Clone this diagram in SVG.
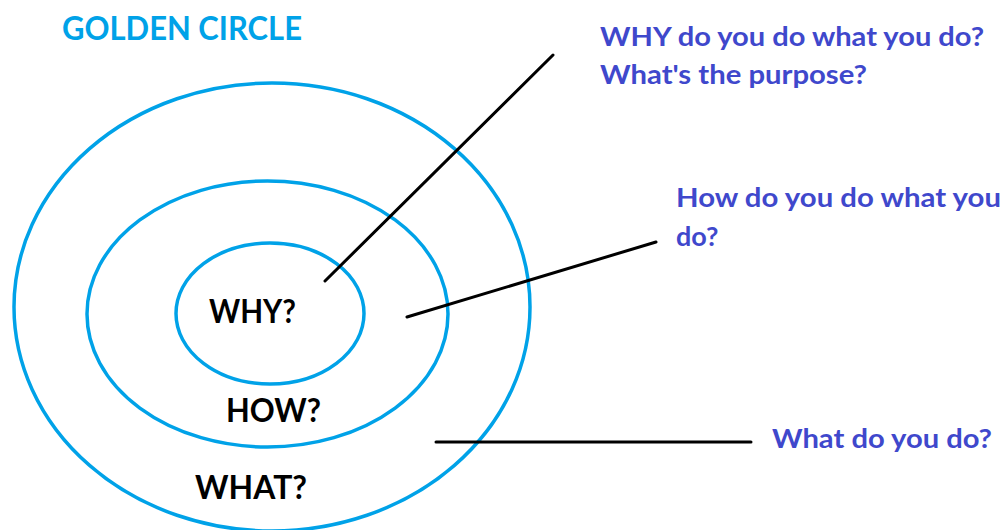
<svg xmlns="http://www.w3.org/2000/svg" width="1006" height="530" viewBox="0 0 1006 530">
  <style>
    .ring { fill: none; stroke: #00a2e8; stroke-width: 3.5; }
    .conn { stroke: #000000; stroke-width: 3; stroke-linecap: round; fill: none; }
    .title { font-family: Lato, "Open Sans", "Liberation Sans", sans-serif; font-weight: bold; font-size: 32px; fill: #00a2e8; }
    .label { font-family: Lato, "Open Sans", "Liberation Sans", sans-serif; font-weight: bold; font-size: 33px; fill: #000000; }
    .note { font-family: Lato, "Open Sans", "Liberation Sans", sans-serif; font-weight: bold; font-size: 27px; fill: #3f48cc; }
  </style>
  <rect width="1006" height="530" fill="#ffffff"/>
  <text class="title" x="62" y="40" textLength="240" lengthAdjust="spacingAndGlyphs">GOLDEN CIRCLE</text>
  <g id="what-ring">
    <ellipse class="ring" cx="272" cy="307" rx="258" ry="224"/>
    <text class="label" x="195" y="499" textLength="112" lengthAdjust="spacingAndGlyphs">WHAT?</text>
  </g>
  <g id="how-ring">
    <ellipse class="ring" cx="267.5" cy="314" rx="180.5" ry="133"/>
    <text class="label" x="226" y="422" textLength="95" lengthAdjust="spacingAndGlyphs">HOW?</text>
  </g>
  <g id="why-ring">
    <ellipse class="ring" cx="270" cy="313.5" rx="94" ry="70.5"/>
    <text class="label" x="209" y="323" textLength="87" lengthAdjust="spacingAndGlyphs">WHY?</text>
  </g>
  <g id="connectors">
    <line class="conn" x1="325" y1="281" x2="553" y2="55"/>
    <line class="conn" x1="407" y1="317" x2="656" y2="242"/>
    <line class="conn" x1="436" y1="442" x2="751" y2="442"/>
  </g>
  <g id="why-note">
    <text class="note" x="600" y="46" textLength="384" lengthAdjust="spacingAndGlyphs">WHY do you do what you do?</text>
    <text class="note" x="600" y="84" textLength="267" lengthAdjust="spacingAndGlyphs">What's the purpose?</text>
  </g>
  <g id="how-note">
    <text class="note" x="676" y="207" textLength="325" lengthAdjust="spacingAndGlyphs">How do you do what you</text>
    <text class="note" x="676" y="246">do?</text>
  </g>
  <g id="what-note">
    <text class="note" x="772" y="448" textLength="220" lengthAdjust="spacingAndGlyphs">What do you do?</text>
  </g>
</svg>
